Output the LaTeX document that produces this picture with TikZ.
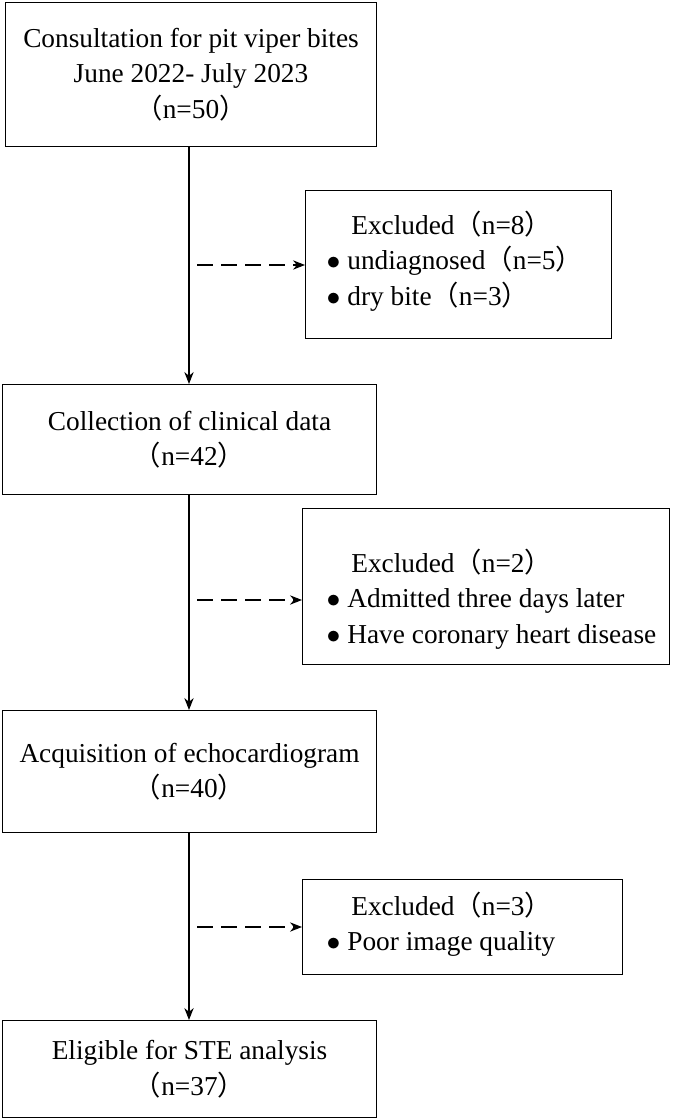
\documentclass[tikz,border=0pt]{standalone}
\usepackage{fontspec}
\setmainfont{Liberation Serif}
\newfontfamily\cjk{Noto Sans CJK SC}
\usetikzlibrary{positioning,arrows.meta}
\newcommand{\lp}{{\cjk （}}
\newcommand{\rp}{{\cjk ）}}
\begin{document}
\begin{tikzpicture}[x=0.75pt, y=-0.75pt,
    box/.style={draw, thick, minimum height=#1*0.75pt, anchor=north west, inner sep=0pt},
    txt/.style={align=center, font=\fontsize{20.5}{26.5}\selectfont},
    ltxt/.style={align=left, anchor=west, font=\fontsize{20.5}{26.5}\selectfont},
    arr/.style={-{Stealth[length=9pt,width=7pt]}, thick},
    darr/.style={-{Stealth[length=9pt,width=7pt]}, thick, dash pattern=on 12pt off 6pt}]
    \useasboundingbox (0,0) rectangle (685,1120);
    % Main boxes
    \node [box=144, minimum width=371*0.75pt] (consult) at (5,2) {};
    \node [txt] at (consult.center) {Consultation for pit viper bites\\June 2022- July 2023\\\lp n=50\rp};
    \node [box=110, minimum width=374*0.75pt] (collect) at (2,384) {};
    \node [txt] at (collect.center) {Collection of clinical data\\\lp n=42\rp};
    \node [box=122, minimum width=374*0.75pt] (echo) at (2,710) {};
    \node [txt] at (echo.center) {Acquisition of echocardiogram\\\lp n=40\rp};
    \node [box=97, minimum width=374*0.75pt] (ste) at (2,1020) {};
    \node [txt] at (ste.center) {Eligible for STE analysis\\\lp n=37\rp};
    % Exclusion boxes
    \node [box=148, minimum width=306*0.75pt] (excl1) at (305,190) {};
    \node [ltxt] at (322,261) {\hspace*{0.9em}Excluded\lp n=8\rp\\$\bullet$ undiagnosed\lp n=5\rp\\$\bullet$ dry bite\lp n=3\rp};
    \node [box=156, minimum width=367*0.75pt] (excl2) at (302,508) {};
    \node [ltxt] at (322,599) {\hspace*{0.9em}Excluded\lp n=2\rp\\$\bullet$ Admitted three days later\\$\bullet$ Have coronary heart disease};
    \node [box=95, minimum width=320*0.75pt] (excl3) at (302,879) {};
    \node [ltxt] at (322,924) {\hspace*{0.9em}Excluded\lp n=3\rp\\$\bullet$ Poor image quality};
    % Branch points
    \coordinate (b1) at (189,265);
    \coordinate (b2) at (189,600);
    \coordinate (b3) at (189,927);
    % Arrows
    \draw [arr] (consult.south -| b1) -- (collect.north -| b1);
    \draw [arr] (collect.south -| b1) -- (echo.north -| b1);
    \draw [arr] (echo.south -| b1) -- (ste.north -| b1);
    \draw [darr] (197,265) -- (b1 -| excl1.west);
    \draw [darr] (197,600) -- (b2 -| excl2.west);
    \draw [darr] (197,927) -- (b3 -| excl3.west);
\end{tikzpicture}
\end{document}
